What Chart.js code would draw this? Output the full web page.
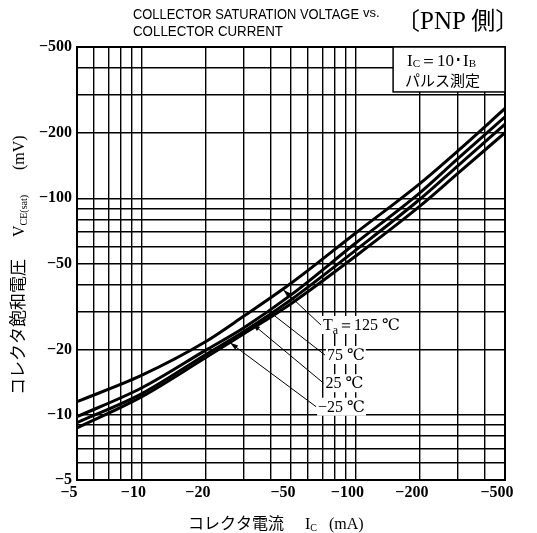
<!DOCTYPE html>
<html>
<head>
<meta charset="utf-8">
<script src="https://cdn.jsdelivr.net/npm/chart.js@4.4.1/dist/chart.umd.min.js"></script>
<style>
html, body { margin: 0; padding: 0; background: #fff; }
</style>
</head>
<body>
<canvas id="chart" width="537" height="533"></canvas>
<script>
// collector current (mA, shown as negative) and VCE(sat) (mV, shown as negative)
const currents = [5, 10, 20, 30, 50, 100, 200, 300, 500];
const vce125 = [11.5, 15.2, 21.8, 28.5, 40.5, 69, 117, 165, 260];
const vce75 = [9.8, 13.3, 19.9, 25.2, 35.8, 62, 106, 152, 238];
const vce25 = [9.2, 12.5, 19.0, 24.2, 34.0, 57.5, 99, 141, 220];
const vceM25 = [8.7, 12.1, 18.4, 23.6, 32.6, 54, 92, 130, 201];

const gridValues = [5, 6, 7, 8, 9, 10, 20, 30, 40, 50, 60, 70, 80, 90, 100, 200, 300, 400, 500];
const xLabels = [5, 10, 20, 50, 100, 200, 500];
const yLabels = [5, 10, 20, 50, 100, 200, 500];

// temperature labels: leader from a point on the curve to the text (mA, mV)
const tempNames = ['125', '75', '25', '−25'];
const leaderFrom = [[46, 37.8], [39, 30.3], [33, 26.3], [26, 21.5]];
const leaderTo = [[69, 26.0], [72, 18.9], [71, 14.0], [65.5, 10.9]];

const serif = '"Liberation Serif", "DejaVu Serif", serif';
const cjk = '"Noto Sans CJK JP", sans-serif';

function pts(ys) {
    return currents.map((c, i) => ({ x: c, y: ys[i] }));
}

function line(label, ys) {
    return { label, data: pts(ys), borderColor: '#000', borderWidth: 3, pointRadius: 0, cubicInterpolationMode: 'monotone', fill: false };
}

// draws a list of [text, font, dy] pieces from x, returns the end x
function rich(ctx, x, y, parts, measureOnly) {
    for (const [t, f, dy] of parts) {
        ctx.font = f;
        if (!measureOnly) ctx.fillText(t, x, y + (dy || 0));
        x += ctx.measureText(t).width;
    }
    return x;
}

const overlay = {
    id: 'overlay',
    afterDraw(chart) {
        const ctx = chart.ctx;
        const a = chart.chartArea;
        const xs = chart.scales.x, ys = chart.scales.y;
        ctx.save();
        ctx.fillStyle = '#000';
        ctx.strokeStyle = '#000';
        ctx.textBaseline = 'alphabetic';
        ctx.textAlign = 'left';

        // frame
        ctx.lineWidth = 2;
        ctx.strokeRect(a.left, a.top, a.right - a.left, a.bottom - a.top);

        // condition box
        const bx = xs.getPixelForValue(150);
        const by = ys.getPixelForValue(310);
        ctx.fillStyle = '#fff';
        ctx.fillRect(bx, a.top, a.right - bx, by - a.top);
        ctx.fillStyle = '#000';
        ctx.lineWidth = 1.5;
        ctx.strokeRect(bx, a.top, a.right - bx, by - a.top);
        rich(ctx, bx + 14, a.top + 19, [
            ['I', '17px ' + serif], ['C', '11px ' + serif, 1], ['＝10･I', '17px ' + serif], ['B', '11px ' + serif, 1]
        ]);
        ctx.font = '15px ' + cjk;
        ctx.fillText('パルス測定', bx + 12, a.top + 39, 78);

        // temperature labels with leaders
        tempNames.forEach((name, i) => {
            const x0 = xs.getPixelForValue(leaderFrom[i][0]);
            const y0 = ys.getPixelForValue(leaderFrom[i][1]);
            const x1 = xs.getPixelForValue(leaderTo[i][0]);
            const y1 = ys.getPixelForValue(leaderTo[i][1]);
            const parts = i === 0
                ? [['T', '16px ' + serif], ['a', '12px ' + serif, 4], ['＝' + name + ' ℃', '16px ' + serif]]
                : [[name + ' ℃', '16px ' + serif]];
            const tx = x1 + 2;
            const w = rich(ctx, tx, 0, parts, true) - tx;
            ctx.fillStyle = '#fff';
            ctx.fillRect(tx - 1, y1 - 9, w + 2, 18);
            ctx.fillStyle = '#000';
            rich(ctx, tx, y1 + 5, parts);
            ctx.lineWidth = 1;
            ctx.beginPath();
            ctx.moveTo(x0, y0);
            ctx.lineTo(x1, y1);
            ctx.stroke();
            const ang = Math.atan2(y1 - y0, x1 - x0);
            ctx.beginPath();
            ctx.moveTo(x0, y0);
            ctx.lineTo(x0 + 8 * Math.cos(ang) - 2.5 * Math.sin(ang), y0 + 8 * Math.sin(ang) + 2.5 * Math.cos(ang));
            ctx.lineTo(x0 + 8 * Math.cos(ang) + 2.5 * Math.sin(ang), y0 + 8 * Math.sin(ang) - 2.5 * Math.cos(ang));
            ctx.closePath();
            ctx.fill();
        });

        // titles
        ctx.font = '15px "Liberation Sans", sans-serif';
        ctx.fillText('COLLECTOR SATURATION VOLTAGE', 133, 19, 226);
        ctx.fillText('COLLECTOR CURRENT', 133, 36, 150);
        ctx.font = '13px "Liberation Sans", sans-serif';
        ctx.fillText('vs.', 363, 17, 19);
        rich(ctx, 396, 29, [['〔', '24px ' + cjk], ['PNP', '25px ' + serif], [' 側〕', '24px ' + cjk]]);

        // x axis title
        ctx.font = '16px ' + cjk;
        ctx.fillText('コレクタ電流', 188, 529, 100);
        rich(ctx, 305, 529, [['I', '16px ' + serif], ['C', '10px ' + serif, 2], ['   (mA)', '16px ' + serif]]);

        // y axis title
        ctx.translate(18, 264);
        ctx.rotate(-Math.PI / 2);
        ctx.font = '17px ' + cjk;
        ctx.fillText('コレクタ飽和電圧', -131, 6, 140);
        rich(ctx, 27, 6, [['V', '16px ' + serif], ['CE(sat)', '10px ' + serif, 3]]);
        ctx.font = '16px ' + serif;
        ctx.fillText('(mV)', 94, 6);
        ctx.restore();
    }
};

const tickFont = { family: serif, size: 16, weight: 'bold' };

new Chart(document.getElementById('chart'), {
    type: 'line',
    data: {
        datasets: [
            line('125', vce125),
            line('75', vce75),
            line('25', vce25),
            line('-25', vceM25)
        ]
    },
    options: {
        responsive: false,
        animation: false,
        devicePixelRatio: 1,
        layout: { padding: { top: 47, right: 32, left: 0, bottom: 0 } },
        plugins: { legend: { display: false }, tooltip: { enabled: false } },
        scales: {
            x: {
                type: 'logarithmic',
                min: 5,
                max: 500,
                afterBuildTicks: s => { s.ticks = gridValues.map(v => ({ value: v })); },
                afterFit: s => { s.height = 53; },
                ticks: {
                    autoSkip: false,
                    maxRotation: 0,
                    padding: 3,
                    labelOffset: -8,
                    color: '#000',
                    font: tickFont,
                    callback: v => xLabels.includes(v) ? '−' + v : ''
                },
                grid: { color: '#000', lineWidth: 1.4, drawTicks: false },
                border: { color: '#000', width: 2 }
            },
            y: {
                type: 'logarithmic',
                min: 5,
                max: 500,
                afterBuildTicks: s => { s.ticks = gridValues.map(v => ({ value: v })); },
                afterFit: s => { s.width = 77; },
                ticks: {
                    autoSkip: false,
                    padding: 5,
                    color: '#000',
                    font: tickFont,
                    callback: v => yLabels.includes(v) ? '−' + v : ''
                },
                grid: { color: '#000', lineWidth: 1.4, drawTicks: false },
                border: { color: '#000', width: 2 }
            }
        }
    },
    plugins: [overlay]
});
</script>
</body>
</html>
